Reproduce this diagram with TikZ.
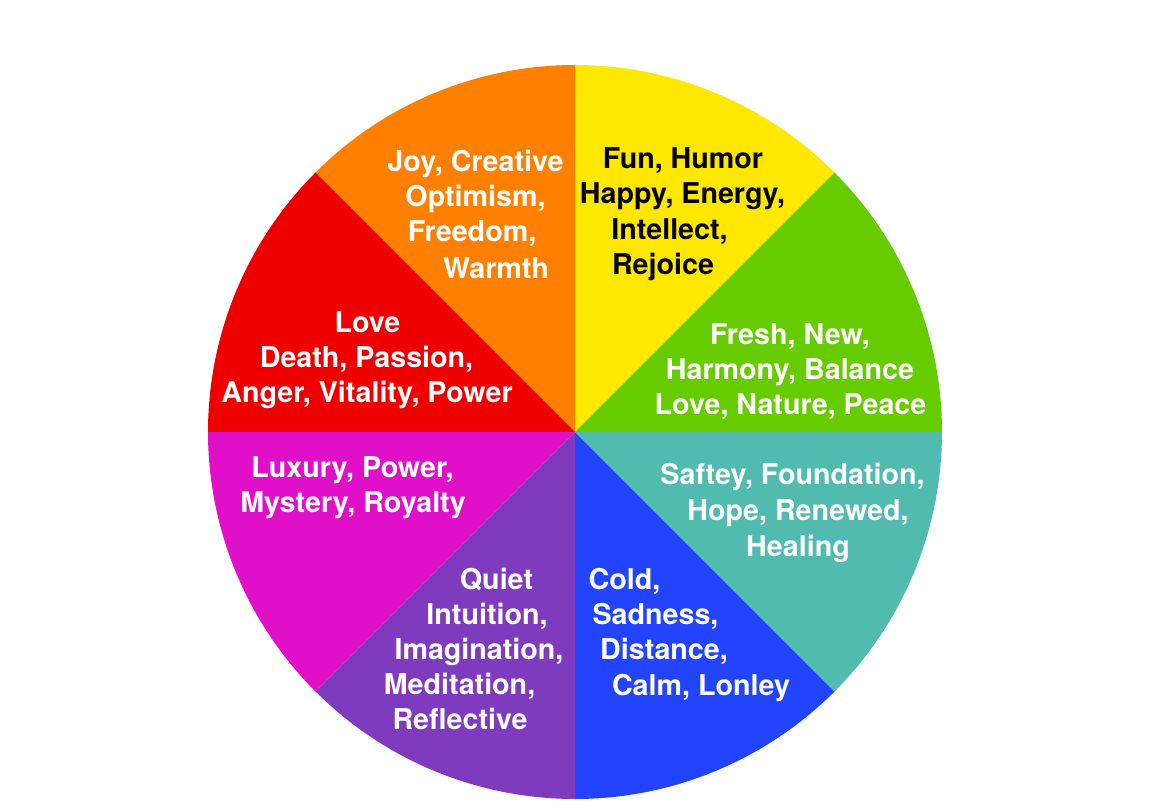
\documentclass[tikz,border=0pt]{standalone}
\usepackage{fontspec}
\setmainfont{TeX Gyre Heros}
\usepackage{tikz}
\usetikzlibrary{calc}
\definecolor{wheelorange}{HTML}{FF7F00}
\definecolor{wheelyellow}{HTML}{FFE800}
\definecolor{wheelgreen}{HTML}{66CC00}
\definecolor{wheelteal}{HTML}{52BBB0}
\definecolor{wheelblue}{HTML}{2244FF}
\definecolor{wheelpurple}{HTML}{7E3BBE}
\definecolor{wheelmagenta}{HTML}{E010C8}
\definecolor{wheelred}{HTML}{EE0000}
\tikzset{
    wlabel/.style={text=white, inner sep=0pt, anchor=base,
        font=\bfseries\fontsize{21.5}{21.5}\selectfont},
    klabel/.style={wlabel, text=black}
}

\begin{document}
\begin{tikzpicture}[x=0.75pt, y=-0.75pt]
    \useasboundingbox (0,0) rectangle (1152,809);
    \coordinate (O) at (575,432);
    % Sektoren (Winkel wegen y nach unten gespiegelt)
    \foreach \a/\b/\c in {-90/-45/wheelyellow, -135/-90/wheelorange,
        -180/-135/wheelred, 135/180/wheelmagenta, 90/135/wheelpurple,
        45/90/wheelblue, 0/45/wheelteal, -45/0/wheelgreen}
        \fill[\c] (O) -- ++(\a:367) arc[start angle=\a, end angle=\b, radius=367] -- cycle;

    % Beschriftungen, Zeile fuer Zeile
    \foreach \x/\y/\t [count=\i] in {475.5/172/{Joy, Creative}, 475.5/207/{Optimism,},
        472/242/{Freedom,}, 496/278/{Warmth}}
        \node[wlabel] (orange\i) at (\x,\y) {\t};
    \foreach \x/\y/\t [count=\i] in {683/169/{Fun, Humor}, 682.5/204/{Happy, Energy,},
        669.5/239/{Intellect,}, 663/274/{Rejoice}}
        \node[klabel] (yellow\i) at (\x,\y) {\t};
    \foreach \x/\y/\t [count=\i] in {790/344/{Fresh, New,}, 790/379/{Harmony, Balance},
        790.5/414/{Love, Nature, Peace}}
        \node[wlabel] (green\i) at (\x,\y) {\t};
    \foreach \x/\y/\t [count=\i] in {367.5/332/{Love}, 366.5/367/{Death, Passion,},
        367/402/{Anger, Vitality, Power}}
        \node[wlabel] (red\i) at (\x,\y) {\t};
    \foreach \x/\y/\t [count=\i] in {352.5/477/{Luxury, Power,}, 353/512/{Mystery, Royalty}}
        \node[wlabel] (magenta\i) at (\x,\y) {\t};
    \foreach \x/\y/\t [count=\i] in {792.5/484/{Saftey, Foundation,}, 798/520/{Hope, Renewed,},
        798/556/{Healing}}
        \node[wlabel] (teal\i) at (\x,\y) {\t};
    \foreach \x/\y/\t [count=\i] in {496.5/589/{Quiet}, 487/624/{Intuition,},
        479/659/{Imagination,}, 459.5/694/{Meditation,}, 460/729/{Reflective}}
        \node[wlabel] (purple\i) at (\x,\y) {\t};
    \foreach \x/\y/\t [count=\i] in {624.5/589/{Cold,}, 655.5/624/{Sadness,},
        664/659/{Distance,}, 701/695/{Calm, Lonley}}
        \node[wlabel] (blue\i) at (\x,\y) {\t};
\end{tikzpicture}
\end{document}
